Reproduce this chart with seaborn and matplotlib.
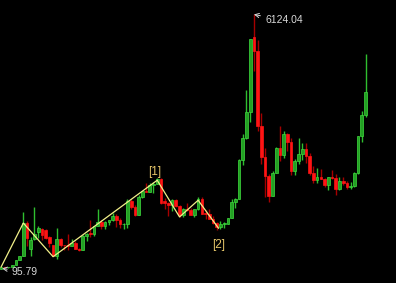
import matplotlib
matplotlib.use("Agg")
import matplotlib.pyplot as plt
import seaborn as sns
import numpy as np
import pandas as pd

# Quarterly candles, 1990Q4 .. 2015Q2
quarters = [f"{1990 + (i + 3) // 4}Q{(i + 3) % 4 + 1}" for i in range(99)]
opens = [96.05, 127.6, 120.2, 137.6, 180.9, 293.8, 390, 1180, 560, 785,
         960, 1040, 1000, 840, 650, 400, 790, 647, 645, 630,
         710, 555, 540, 860, 920, 917, 1100, 1200, 1100, 1194,
         1243, 1340, 1240, 1146, 1158, 1689, 1550, 1366, 1800, 1928,
         1910, 2073, 2112, 2218, 1700, 1646, 1600, 1732, 1581, 1357,
         1510, 1487, 1367, 1497, 1741, 1399, 1396, 1266, 1181, 1080,
         1155, 1161, 1298, 1672, 1752, 2675, 3183, 3820, 5600, 5261,
         3472, 2736, 2293, 1821, 2373, 2959, 2779, 3277, 3109, 2398,
         2656, 2808, 2928, 2762, 2359, 2199, 2262, 2225, 2086, 2269,
         2237, 1979, 2175, 2116, 2033, 2048, 2364, 3235, 3748]
highs = [127.6, 135.2, 137.6, 180.9, 292.8, 397, 1429, 1225, 850, 1558,
         1100, 1050, 1045, 878, 660, 1052, 830, 660, 926, 792,
         760, 580, 900, 950, 1258, 1100, 1510, 1250, 1220, 1250,
         1420, 1380, 1300, 1180, 1756, 1756, 1600, 1850, 1930, 2115,
         2125, 2140, 2245, 2245, 1780, 1680, 1748, 1735, 1600, 1540,
         1649, 1530, 1497, 1783, 1783, 1480, 1500, 1330, 1200, 1223,
         1190, 1306, 1757, 1770, 2698, 3290, 4335, 5552, 6124.04, 5522,
         3786, 2953, 2333, 2402, 2990, 3478, 3361, 3306, 3181, 2700,
         3186, 3067, 3067, 2826, 2536, 2478, 2453, 2248, 2276, 2444,
         2334, 2270, 2259, 2177, 2146, 2391, 3239, 3835, 5178]
lows = [95.79, 104.9, 104.5, 134.9, 180.5, 292, 384, 640, 386.85, 780,
        820, 780, 790, 600, 420, 325.89, 600, 524, 540, 625,
        555, 512, 538, 760, 855, 870, 1100, 1040, 1025, 1130,
        1230, 1070, 1064, 1030, 1050, 1500, 1341, 1361, 1760, 1900,
        1900, 1890, 2100, 1630, 1514, 1339, 1455, 1560, 1311, 1311,
        1450, 1360, 1307, 1496, 1380, 1259, 1261, 1160, 998.23, 1030,
        1067, 1160, 1290, 1540, 1747, 2541, 3180, 3563, 4778, 3357,
        2566, 1802, 1664, 1814, 2370, 2639, 2712, 2890, 2319, 2319,
        2573, 2661, 2610, 2308, 2132, 2132, 2219, 2029, 1949, 2210,
        1849, 1951, 2087, 1974, 1991, 2025, 2339, 3095, 3700]
closes = [127.6, 120.2, 137.6, 180.9, 292.8, 390, 1170, 812, 780, 925,
          1050, 890, 830, 700, 400, 790, 647, 645, 630, 710,
          555, 540, 860, 920, 917, 1100, 1200, 1100, 1194, 1243,
          1340, 1240, 1146, 1158, 1689, 1550, 1366, 1800, 1928, 1910,
          2073, 2112, 2218, 1650, 1646, 1600, 1732, 1581, 1357, 1510,
          1487, 1367, 1497, 1741, 1399, 1396, 1266, 1181, 1080, 1155,
          1161, 1298, 1672, 1752, 2675, 3183, 3820, 5552, 5261, 3472,
          2736, 2293, 1821, 2373, 2959, 2779, 3277, 3109, 2398, 2656,
          2808, 2928, 2762, 2359, 2199, 2262, 2225, 2086, 2269, 2237,
          1979, 2175, 2116, 2033, 2048, 2364, 3235, 3748, 4277]

# Wave zigzag (quarter index, value) and labels
zig_index = [0, 6, 14, 42, 48, 53, 58.5]
zig_value = [128, 1175, 376, 2190, 1320, 1715, 1050]
wave_labels = ["[1]", "[2]"]
low_label = "95.79"
high_label = "6124.04"

df = pd.DataFrame({"q": quarters, "open": opens, "high": highs,
                   "low": lows, "close": closes})
df["i"] = np.arange(len(df))
df["up"] = df["close"] >= df["open"]

sns.set_theme(style="dark", rc={"axes.facecolor": "black",
                                "figure.facecolor": "black"})
plt.rcParams["font.family"] = ["Liberation Sans", "DejaVu Sans"]

fig = plt.figure(figsize=(3.96, 2.83), dpi=100)
ax = fig.add_axes([0, 0, 1, 1])
ax.set_facecolor("black")

up = df[df["up"]]
dn = df[~df["up"]]

ax.vlines(up["i"], up["low"], up["high"], color="#2fbf2f", lw=1.0, zorder=2)
ax.vlines(dn["i"], dn["low"], dn["high"], color="#a50000", lw=1.0, zorder=2)

h_up = np.maximum((up["close"] - up["open"]).values, 12)
h_dn = np.maximum((dn["open"] - dn["close"]).values, 12)
ax.bar(up["i"], h_up, bottom=up["open"], width=0.72,
       color="#23a023", edgecolor="#3ed83e", linewidth=0.5, zorder=3)
ax.bar(dn["i"], h_dn, bottom=dn["close"], width=0.72,
       color="#ff1414", edgecolor="#ff1414", linewidth=0.5, zorder=3)

zz = pd.DataFrame({"i": zig_index, "v": zig_value})
sns.lineplot(data=zz, x="i", y="v", sort=False, ax=ax, color="#f2f08a",
             lw=0.9, zorder=4)

lab_col = "#e6c66a"
ax.annotate(wave_labels[0], xy=(zig_index[3], zig_value[3]),
            xytext=(-1.6, 6), textcoords="offset points", ha="center",
            va="center", color=lab_col, fontsize=8.5)
ax.annotate(wave_labels[1], xy=(zig_index[6], zig_value[6]),
            xytext=(0, -12), textcoords="offset points", ha="center",
            va="center", color=lab_col, fontsize=8.5)

txt_col = "#d8d8d8"
imin = int(np.argmin(lows))
imax = int(np.argmax(highs))
ax.annotate(low_label, xy=(imin + 0.3, lows[imin]), xytext=(7, -2.2),
            textcoords="offset points", ha="left", va="center",
            color=txt_col, fontsize=7.5,
            arrowprops=dict(arrowstyle="->", color=txt_col, lw=0.7,
                            shrinkA=1, shrinkB=0))
ax.annotate(high_label, xy=(imax, highs[imax]), xytext=(8, -4.3),
            textcoords="offset points", ha="left", va="center",
            color=txt_col, fontsize=7.5,
            arrowprops=dict(arrowstyle="->", color=txt_col, lw=0.7,
                            shrinkA=1, shrinkB=0))

ax.set_xlim(-0.27, 106.2)
ax.set_ylim(-248, 6467)
ax.set_xlabel("")
ax.set_ylabel("")
ax.axis("off")
if ax.get_legend():
    ax.get_legend().remove()

fig.savefig("out.png", dpi=100, facecolor="black")
